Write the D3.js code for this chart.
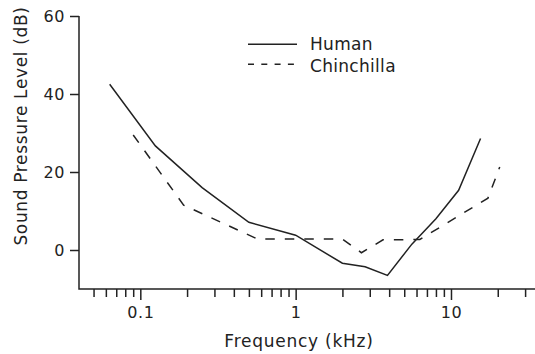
<!DOCTYPE html>
<html><head><meta charset="utf-8">
<script src="https://cdn.jsdelivr.net/npm/d3@7"></script>
<style>body{margin:0;background:#fff}svg{display:block}text{font-family:"DejaVu Sans",Verdana,sans-serif;fill:#222}</style>
</head><body><svg id="c" width="535" height="354"></svg>
<script>
const humanFreq = [0.0635, 0.125, 0.25, 0.5, 1, 2, 2.8, 3.9, 5.6, 8, 11.2, 15.5];
const humanDb   = [42.5, 26.7, 16.0, 7.1, 3.8, -3.4, -4.3, -6.5, 1.5, 8.0, 15.3, 28.6];
const chinFreq  = [0.09, 0.19, 0.57, 2.0, 2.65, 3.65, 6.3, 17.3, 20.6];
const chinDb    = [29.5, 11.5, 2.8, 2.8, -0.7, 2.6, 2.7, 13.3, 21.3];
const majorTicks = [0.1, 1, 10];
const minorTicks = [0.05,0.06,0.07,0.08,0.09,0.2,0.3,0.4,0.5,0.6,0.7,0.8,0.9,2,3,4,5,6,7,8,9,20,30];
const yTicks = [0, 20, 40, 60];
const seriesNames = ["Human", "Chinchilla"];

const svg = d3.select("#c");
const x = d3.scaleLog().domain([0.04, 35]).range([78.5, 535.5]);
const y = d3.scaleLinear().domain([-10, 60]).range([289, 16]);
const ink = "#222";

// axes
const yAx = svg.append("g").attr("transform","translate(79,0)")
  .call(d3.axisLeft(y).tickValues(yTicks).tickSize(9).tickPadding(5).tickFormat(d3.format("d")));
const xMinor = svg.append("g").attr("transform","translate(0,289)")
  .call(d3.axisBottom(x).tickValues(minorTicks).tickSize(8).tickFormat(""));
const xMajor = svg.append("g").attr("transform","translate(0,289)")
  .call(d3.axisBottom(x).tickValues(majorTicks).tickSize(11).tickPadding(7).tickFormat(d => d3.format("")(d)));
[yAx, xMinor, xMajor].forEach(g => {
  g.selectAll(".domain").remove();
  g.selectAll("line").attr("stroke", ink).attr("stroke-width", 1.5);
  g.selectAll("text").attr("font-size", 16).attr("fill", ink)
    .attr("font-family", '"DejaVu Sans",Verdana,sans-serif').attr("letter-spacing", 0.6);
});
svg.append("path").attr("d", `M79,${y(60)}V289H535`).attr("fill","none").attr("stroke",ink).attr("stroke-width",1.5);

// lines
const line = d3.line().x(d => x(d[0])).y(d => y(d[1]));
const human = humanFreq.map((f,i) => [f, humanDb[i]]);
const chin = chinFreq.map((f,i) => [f, chinDb[i]]);
svg.append("path").datum(human).attr("d", line).attr("fill","none").attr("stroke",ink).attr("stroke-width",1.5);
svg.append("path").datum(chin).attr("d", line).attr("fill","none").attr("stroke",ink).attr("stroke-width",1.5).attr("stroke-dasharray","9.5,10");

// legend
const lg = svg.append("g");
lg.append("line").attr("x1",248).attr("x2",297).attr("y1",44.3).attr("y2",44.3).attr("stroke",ink).attr("stroke-width",1.5);
lg.append("line").attr("x1",248).attr("x2",297).attr("y1",64.3).attr("y2",64.3).attr("stroke",ink).attr("stroke-width",1.5).attr("stroke-dasharray","6,7.3");
lg.append("text").attr("x",310).attr("y",50).attr("font-size",17).attr("letter-spacing",0.3).text(seriesNames[0]);
lg.append("text").attr("x",310).attr("y",71.5).attr("font-size",17).attr("letter-spacing",0.3).text(seriesNames[1]);

// titles
svg.append("text").attr("x", 299).attr("y", 346.5).attr("text-anchor","middle").attr("font-size",17).attr("letter-spacing",0.75).text("Frequency (kHz)");
svg.append("text").attr("transform","translate(27,126) rotate(-90)").attr("text-anchor","middle").attr("font-size",17).attr("letter-spacing",0.65).text("Sound Pressure Level (dB)");
</script></body></html>
